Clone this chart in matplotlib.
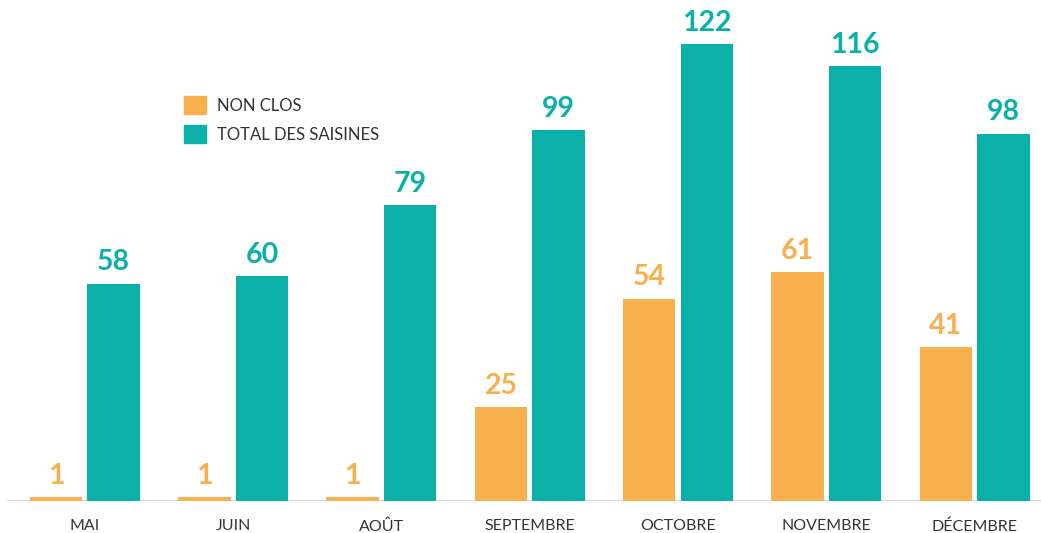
import numpy as np
import matplotlib.pyplot as plt
from matplotlib.patches import Patch

mois = ['MAI', 'JUIN', 'AOÛT', 'SEPTEMBRE', 'OCTOBRE', 'NOVEMBRE', 'DÉCEMBRE']
non_clos = [1, 1, 1, 25, 54, 61, 41]
total_saisines = [58, 60, 79, 99, 122, 116, 98]

orange = '#F8B04E'
teal = '#0BB0A9'

fig = plt.figure(figsize=(10.41, 5.33), dpi=100)
ax = fig.add_axes([0, 32 / 533, 1, 501 / 533])

x = np.arange(len(mois))
w = 0.354
off = 0.194
b1 = ax.bar(x - off, non_clos, w, color=orange)
b2 = ax.bar(x + off, total_saisines, w, color=teal)

# valeurs au-dessus des barres
for bars, vals, col in [(b1, non_clos, orange), (b2, total_saisines, teal)]:
    for rect, v in zip(bars, vals):
        ax.annotate(str(v), (rect.get_x() + rect.get_width() / 2, v),
                    xytext=(0, 6), textcoords='offset points', ha='center', va='bottom',
                    fontsize=20.5, fontweight='bold', color=col, family='Lato')

ax.set_xlim(-0.572, 6.448)
ax.set_ylim(0, 133.7)
ax.axhline(0, xmin=8 / 1041, xmax=1, color='#d9d9d9', lw=1.5, zorder=0)

for s in ax.spines.values():
    s.set_visible(False)
ax.set_yticks([])
ax.set_xticks(x)
ax.set_xticklabels(mois, fontsize=11.5, color='#333333', family='Lato')
ax.tick_params(axis='x', length=0, pad=13)

handles = [Patch(color=orange, label='NON CLOS'),
           Patch(color=teal, label='TOTAL DES SAISINES')]
fig.legend(handles=handles, loc='upper left', bbox_to_anchor=(169 / 1041, 1 - 81 / 533),
           frameon=False, prop={'family': 'Lato', 'size': 12},
           handlelength=1.3, handleheight=1.3, handletextpad=0.7, labelspacing=0.65,
           labelcolor='#333333')

fig.savefig('out.png', dpi=100)
